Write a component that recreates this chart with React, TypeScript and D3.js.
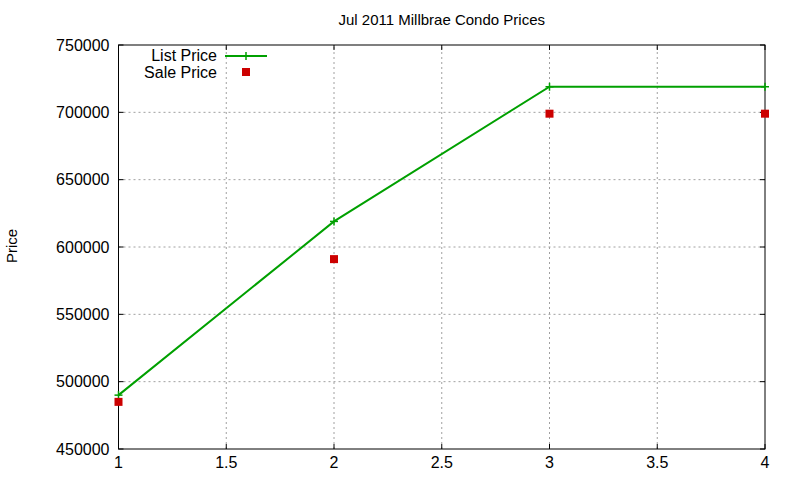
import * as d3 from 'd3';

const xValues = [1, 2, 3, 4];
const listPrice = [490000, 619000, 719000, 719000];
const salePrice = [485000, 591000, 699000, 699000];
const xTicks = [1, 1.5, 2, 2.5, 3, 3.5, 4];
const yTicks = [450000, 500000, 550000, 600000, 650000, 700000, 750000];

const W = 800;
const H = 480;
const margin = { top: 45, right: 35, bottom: 31, left: 118.5 };
const FONT = '"Liberation Sans", Arial, sans-serif';
const GREEN = '#00a000';
const RED = '#cc0000';

export default function App() {
  const x = d3.scaleLinear().domain([1, 4]).range([margin.left, W - margin.right]);
  const y = d3.scaleLinear().domain([450000, 750000]).range([H - margin.bottom, margin.top]);
  const [x0, x1] = x.range();
  const [y0, y1] = y.range();

  const listPts = xValues.map((v, i) => [v, listPrice[i]] as [number, number]);
  const line = d3
    .line<[number, number]>()
    .x(d => x(d[0]))
    .y(d => y(d[1]));

  const plus = (cx: number, cy: number, key: string) => (
    <g key={key} stroke={GREEN} strokeWidth={1.5}>
      <line x1={cx - 4} x2={cx + 4} y1={cy} y2={cy} />
      <line x1={cx} x2={cx} y1={cy - 4} y2={cy + 4} />
    </g>
  );

  const tick = 5;

  return (
    <svg
      width={W}
      height={H}
      style={{ position: 'absolute', left: 0, top: 0, background: '#fff' }}
      fontFamily={FONT}
    >
      {/* grid */}
      <g stroke="#a0a0a0" strokeWidth={1} strokeDasharray="2,3">
        {xTicks.slice(1, -1).map(t => (
          <line key={'gx' + t} x1={x(t)} x2={x(t)} y1={y0} y2={y1} />
        ))}
        {yTicks.slice(1, -1).map(t => (
          <line key={'gy' + t} x1={x0} x2={x1} y1={y(t)} y2={y(t)} />
        ))}
      </g>

      {/* ticks, mirrored */}
      <g stroke="#000" strokeWidth={1}>
        {xTicks.map(t => (
          <g key={'tx' + t}>
            <line x1={x(t)} x2={x(t)} y1={y0} y2={y0 - tick} />
            <line x1={x(t)} x2={x(t)} y1={y1} y2={y1 + tick} />
          </g>
        ))}
        {yTicks.map(t => (
          <g key={'ty' + t}>
            <line x1={x0} x2={x0 + tick} y1={y(t)} y2={y(t)} />
            <line x1={x1} x2={x1 - tick} y1={y(t)} y2={y(t)} />
          </g>
        ))}
      </g>

      {/* tick labels */}
      <g fontSize={16} fill="#000">
        {yTicks.map(t => (
          <text key={'ly' + t} x={x0 - 9} y={y(t)} dy="0.35em" textAnchor="end">
            {t}
          </text>
        ))}
        {xTicks.map(t => (
          <text key={'lx' + t} x={x(t)} y={y0 + 13} dy="0.35em" textAnchor="middle">
            {t}
          </text>
        ))}
      </g>

      {/* border */}
      <rect x={x0} y={y1} width={x1 - x0} height={y0 - y1} fill="none" stroke="#000" strokeWidth={1} />

      {/* title and axis label */}
      <text x={(x0 + x1) / 2} y={20} dy="0.35em" textAnchor="middle" fontSize={15}>
        Jul 2011 Millbrae Condo Prices
      </text>
      <text
        transform={`translate(12,${(y0 + y1) / 2 - 1}) rotate(-90)`}
        dy="0.35em"
        textAnchor="middle"
        fontSize={15}
      >
        Price
      </text>

      {/* list price line */}
      <path d={line(listPts) ?? ''} fill="none" stroke={GREEN} strokeWidth={2} />
      {listPts.map((d, i) => plus(x(d[0]), y(d[1]), 'p' + i))}

      {/* sale price points */}
      {xValues.map((v, i) => (
        <rect key={'s' + i} x={x(v) - 4} y={y(salePrice[i]) - 4} width={8} height={8} fill={RED} />
      ))}

      {/* legend */}
      <g fontSize={16}>
        <text x={217} y={55} dy="0.35em" textAnchor="end">
          List Price
        </text>
        <line x1={225} x2={267} y1={56} y2={56} stroke={GREEN} strokeWidth={2} />
        {plus(246, 56, 'lp')}
        <text x={217} y={72} dy="0.35em" textAnchor="end">
          Sale Price
        </text>
        <rect x={242} y={68} width={8} height={8} fill={RED} />
      </g>
    </svg>
  );
}
